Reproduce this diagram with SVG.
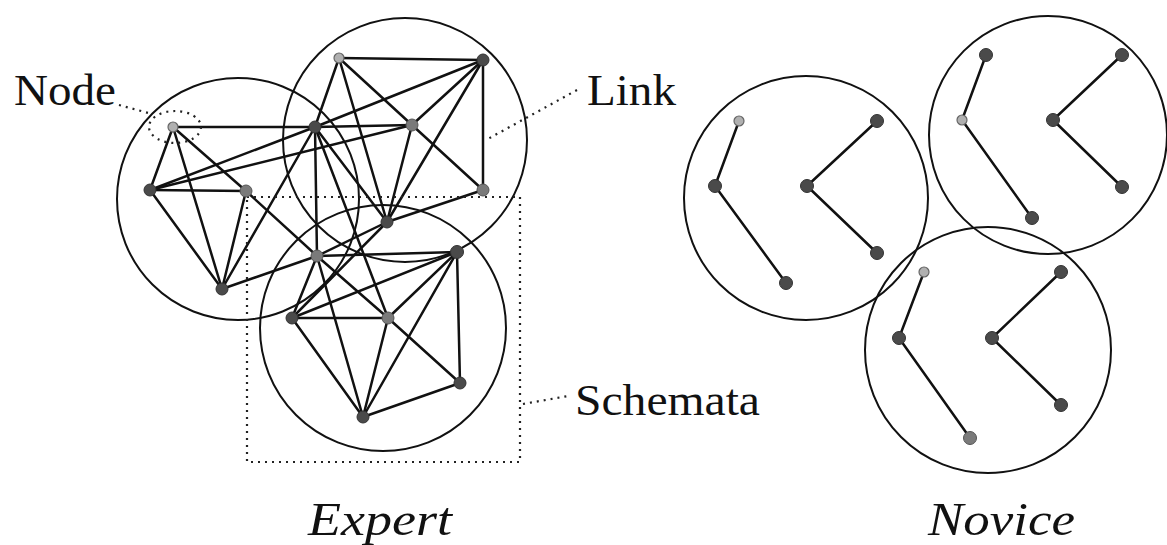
<svg xmlns="http://www.w3.org/2000/svg" width="1167" height="545" viewBox="0 0 1167 545">
<style>
.sch{fill:none;stroke:#111;stroke-width:2}
.ln{stroke:#111;stroke-width:2.5;stroke-linecap:round}
.dot{fill:none;stroke:#222;stroke-width:2.2;stroke-dasharray:2 5}
.nd{fill:#4a4a4a;stroke:#333;stroke-width:1}
.ng{fill:#7a7a7a;stroke:#555;stroke-width:1}
.nl{fill:#b0b0b0;stroke:#666;stroke-width:1.2}
.lbl{font-family:"Liberation Serif","Times New Roman",serif;font-size:45px;fill:#111}
.ttl{font-family:"Liberation Serif","Times New Roman",serif;font-size:47px;font-style:italic;fill:#111}
</style>
<rect width="1167" height="545" fill="#fff"/>
<g id="schemata">
<circle class="sch" cx="238" cy="199" r="121"/>
<circle class="sch" cx="405" cy="140" r="122"/>
<circle class="sch" cx="383" cy="328" r="123"/>
<circle class="sch" cx="806" cy="198" r="122"/>
<circle class="sch" cx="1048" cy="135" r="119"/>
<circle class="sch" cx="988" cy="350" r="123"/>
</g>
<g id="connectors">
<line class="ln" x1="173" y1="127" x2="150" y2="190"/>
<line class="ln" x1="173" y1="127" x2="222" y2="289"/>
<line class="ln" x1="173" y1="127" x2="246" y2="191"/>
<line class="ln" x1="246" y1="191" x2="317" y2="256"/>
<line class="ln" x1="317" y1="256" x2="388" y2="318"/>
<line class="ln" x1="388" y1="318" x2="460" y2="383"/>
<line class="ln" x1="150" y1="190" x2="246" y2="191"/>
<line class="ln" x1="150" y1="190" x2="222" y2="289"/>
<line class="ln" x1="246" y1="191" x2="222" y2="289"/>
<line class="ln" x1="173" y1="127" x2="315" y2="127"/>
<line class="ln" x1="315" y1="127" x2="412" y2="125"/>
<line class="ln" x1="150" y1="190" x2="315" y2="127"/>
<line class="ln" x1="315" y1="127" x2="483" y2="60"/>
<line class="ln" x1="150" y1="190" x2="412" y2="125"/>
<line class="ln" x1="315" y1="127" x2="222" y2="289"/>
<line class="ln" x1="222" y1="289" x2="317" y2="256"/>
<line class="ln" x1="317" y1="256" x2="387" y2="222"/>
<line class="ln" x1="387" y1="222" x2="483" y2="190"/>
<line class="ln" x1="339" y1="58" x2="483" y2="60"/>
<line class="ln" x1="483" y1="60" x2="483" y2="190"/>
<line class="ln" x1="339" y1="58" x2="412" y2="125"/>
<line class="ln" x1="412" y1="125" x2="483" y2="190"/>
<line class="ln" x1="339" y1="58" x2="315" y2="127"/>
<line class="ln" x1="339" y1="58" x2="387" y2="222"/>
<line class="ln" x1="483" y1="60" x2="412" y2="125"/>
<line class="ln" x1="483" y1="60" x2="387" y2="222"/>
<line class="ln" x1="315" y1="127" x2="387" y2="222"/>
<line class="ln" x1="412" y1="125" x2="387" y2="222"/>
<line class="ln" x1="315" y1="127" x2="317" y2="256"/>
<line class="ln" x1="315" y1="127" x2="388" y2="318"/>
<line class="ln" x1="317" y1="256" x2="457" y2="252"/>
<line class="ln" x1="317" y1="256" x2="292" y2="318"/>
<line class="ln" x1="317" y1="256" x2="363" y2="417"/>
<line class="ln" x1="457" y1="252" x2="292" y2="318"/>
<line class="ln" x1="457" y1="252" x2="388" y2="318"/>
<line class="ln" x1="457" y1="252" x2="460" y2="383"/>
<line class="ln" x1="457" y1="252" x2="363" y2="417"/>
<line class="ln" x1="292" y1="318" x2="388" y2="318"/>
<line class="ln" x1="292" y1="318" x2="363" y2="417"/>
<line class="ln" x1="388" y1="318" x2="363" y2="417"/>
<line class="ln" x1="460" y1="383" x2="363" y2="417"/>
<line class="ln" x1="292" y1="318" x2="387" y2="222"/>
<line class="ln" x1="739" y1="121" x2="715" y2="186"/>
<line class="ln" x1="715" y1="186" x2="786" y2="283"/>
<line class="ln" x1="807" y1="186" x2="877" y2="121"/>
<line class="ln" x1="807" y1="186" x2="877" y2="253"/>
<line class="ln" x1="986" y1="55" x2="962" y2="120"/>
<line class="ln" x1="962" y1="120" x2="1032" y2="218"/>
<line class="ln" x1="1053" y1="120" x2="1122" y2="55"/>
<line class="ln" x1="1053" y1="120" x2="1122" y2="187"/>
<line class="ln" x1="924" y1="272" x2="899" y2="338"/>
<line class="ln" x1="899" y1="338" x2="970" y2="438"/>
<line class="ln" x1="992" y1="338" x2="1061" y2="272"/>
<line class="ln" x1="992" y1="338" x2="1061" y2="405"/>
</g>
<g id="schema-box">
<rect class="dot" x="247" y="197" width="273" height="265"/>
</g>
<g id="expert-nodes">
<g id="n-A"><circle class="nl" cx="173" cy="127" r="5"/></g>
<g id="n-B"><circle class="nd" cx="150" cy="190" r="6"/></g>
<g id="n-C"><circle class="ng" cx="246" cy="191" r="6"/></g>
<g id="n-D"><circle class="nd" cx="222" cy="289" r="6"/></g>
<g id="n-E"><circle class="nl" cx="339" cy="58" r="5"/></g>
<g id="n-F"><circle class="nd" cx="483" cy="60" r="6"/></g>
<g id="n-G"><circle class="nd" cx="315" cy="127" r="6"/></g>
<g id="n-H"><circle class="ng" cx="412" cy="125" r="6"/></g>
<g id="n-I"><circle class="ng" cx="483" cy="190" r="6"/></g>
<g id="n-J"><circle class="nd" cx="387" cy="222" r="6"/></g>
<g id="n-K"><circle class="ng" cx="317" cy="256" r="6"/></g>
<g id="n-L"><circle class="nd" cx="457" cy="252" r="6.5"/></g>
<g id="n-M"><circle class="nd" cx="292" cy="318" r="6"/></g>
<g id="n-N"><circle class="ng" cx="388" cy="318" r="6"/></g>
<g id="n-O"><circle class="nd" cx="460" cy="383" r="6"/></g>
<g id="n-P"><circle class="nd" cx="363" cy="417" r="6"/></g>
</g>
<g id="novice-nodes">
<g id="v1"><circle class="nl" cx="739" cy="121" r="5"/></g>
<g id="v2"><circle class="nd" cx="715" cy="186" r="6.5"/></g>
<g id="v3"><circle class="nd" cx="786" cy="283" r="6.5"/></g>
<g id="v4"><circle class="nd" cx="807" cy="186" r="6.5"/></g>
<g id="v5"><circle class="nd" cx="877" cy="121" r="6.5"/></g>
<g id="v6"><circle class="nd" cx="877" cy="253" r="6.5"/></g>
<g id="v7"><circle class="nd" cx="986" cy="55" r="6.5"/></g>
<g id="v8"><circle class="nl" cx="962" cy="120" r="5"/></g>
<g id="v9"><circle class="nd" cx="1032" cy="218" r="6.5"/></g>
<g id="v10"><circle class="nd" cx="1053" cy="120" r="6.5"/></g>
<g id="v11"><circle class="nd" cx="1122" cy="55" r="6.5"/></g>
<g id="v12"><circle class="nd" cx="1122" cy="187" r="6.5"/></g>
<g id="v13"><circle class="nl" cx="924" cy="272" r="5"/></g>
<g id="v14"><circle class="nd" cx="899" cy="338" r="6.5"/></g>
<g id="v15"><circle class="ng" cx="970" cy="438" r="6.5"/></g>
<g id="v16"><circle class="nd" cx="992" cy="338" r="6.5"/></g>
<g id="v17"><circle class="nd" cx="1061" cy="272" r="6.5"/></g>
<g id="v18"><circle class="nd" cx="1061" cy="405" r="6.5"/></g>
</g>
<g id="leaders">
<line class="dot" x1="119" y1="105" x2="152" y2="114"/>
<ellipse class="dot" cx="175" cy="127" rx="26" ry="16" stroke="#555"/>
<line class="dot" x1="577" y1="90" x2="486" y2="140"/>
<line class="dot" x1="523" y1="404" x2="568" y2="396"/>
</g>
<g id="labels">
<text class="lbl" x="14" y="105" textLength="102" lengthAdjust="spacingAndGlyphs">Node</text>
<text class="lbl" x="587" y="105" textLength="89" lengthAdjust="spacingAndGlyphs">Link</text>
<text class="lbl" x="575" y="415" textLength="185" lengthAdjust="spacingAndGlyphs">Schemata</text>
<text class="ttl" x="308" y="535" textLength="144" lengthAdjust="spacingAndGlyphs">Expert</text>
<text class="ttl" x="928" y="535" textLength="147" lengthAdjust="spacingAndGlyphs">Novice</text>
</g>
</svg>
